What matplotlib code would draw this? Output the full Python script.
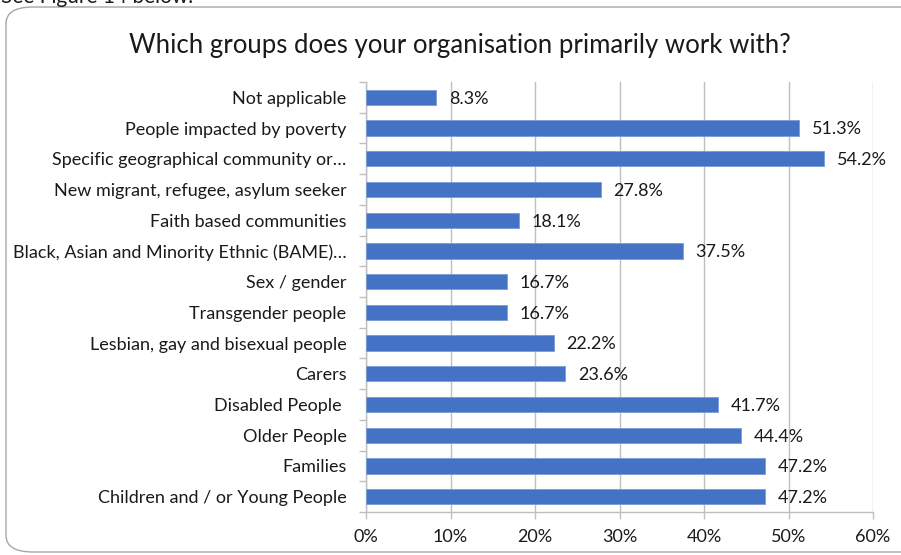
import matplotlib.pyplot as plt
from matplotlib.patches import FancyBboxPatch
import numpy as np

# ========= data (top to bottom as shown) =========
groups = [
    "Not applicable",
    "People impacted by poverty",
    "Specific geographical community or…",
    "New migrant, refugee, asylum seeker",
    "Faith based communities",
    "Black, Asian and Minority Ethnic (BAME)…",
    "Sex / gender",
    "Transgender people",
    "Lesbian, gay and bisexual people",
    "Carers",
    "Disabled People ",
    "Older People",
    "Families",
    "Children and / or Young People",
]
share = [8.3, 51.3, 54.2, 27.8, 18.1, 37.5, 16.7, 16.7, 22.2, 23.6, 41.7, 44.4, 47.2, 47.2]
x_ticks = [0, 10, 20, 30, 40, 50, 60]

plt.rcParams["font.family"] = ["Lato", "DejaVu Sans"]
bar_color = "#4472C4"
grid_color = "#BFBFBF"
text_color = "#1A1A1A"

fig = plt.figure(figsize=(9.01, 5.55), dpi=100)

# rounded chart-area frame, partly cut by the page crop
frame = FancyBboxPatch(
    (6 / 901, 3 / 555), 1.2, 545 / 555,
    boxstyle="round,pad=0,rounding_size=0.03",
    transform=fig.transFigure, facecolor="white", edgecolor="#A6A6A6",
    linewidth=1.0, zorder=-5,
)
fig.patches.append(frame)

# cropped caption from the page above
fig.text(0.001, 1 - 3 / 555, "See Figure 14 below.", fontsize=15, ha="left", va="baseline",
         color=text_color)

fig.text(460 / 901, 1 - 46 / 555, "Which groups does your organisation primarily work with?",
         fontsize=18.5, ha="center", va="center", color=text_color)

ax = fig.add_axes([366 / 901, 1 - 512 / 555, (873 - 366) / 901, (512 - 82) / 555])
ax.set_facecolor("none")

y = np.arange(len(groups))
ax.barh(y, share, height=0.5, color=bar_color, edgecolor="#7A9CD8", linewidth=0.6, zorder=3)
for yi, v in zip(y, share):
    ax.annotate(f"{v:.1f}%", (v, yi), xytext=(9, -1), textcoords="offset points",
                ha="left", va="center", fontsize=13, color=text_color, zorder=4)

ax.set_xlim(0, 60)
ax.set_ylim(len(groups) - 0.5, -0.5)
ax.set_xticks(x_ticks)
ax.set_xticklabels([f"{t}%" for t in x_ticks])
ax.set_yticks(y)
ax.set_yticklabels(groups)
ax.set_yticks(np.arange(len(groups) + 1) - 0.5, minor=True)

ax.xaxis.grid(True, color=grid_color, linewidth=1.0, zorder=0)
ax.set_axisbelow(True)
for side in ["top", "right"]:
    ax.spines[side].set_visible(False)
for side in ["left", "bottom"]:
    ax.spines[side].set_color(grid_color)
    ax.spines[side].set_linewidth(1.0)

ax.tick_params(axis="y", which="major", length=0, pad=14, labelsize=13, labelcolor=text_color)
ax.tick_params(axis="y", which="minor", length=5, color=grid_color, width=1.0)
ax.tick_params(axis="x", which="major", length=5, color=grid_color, width=1.0, pad=7,
               labelsize=13, labelcolor=text_color)

fig.savefig("out.png", dpi=100)
